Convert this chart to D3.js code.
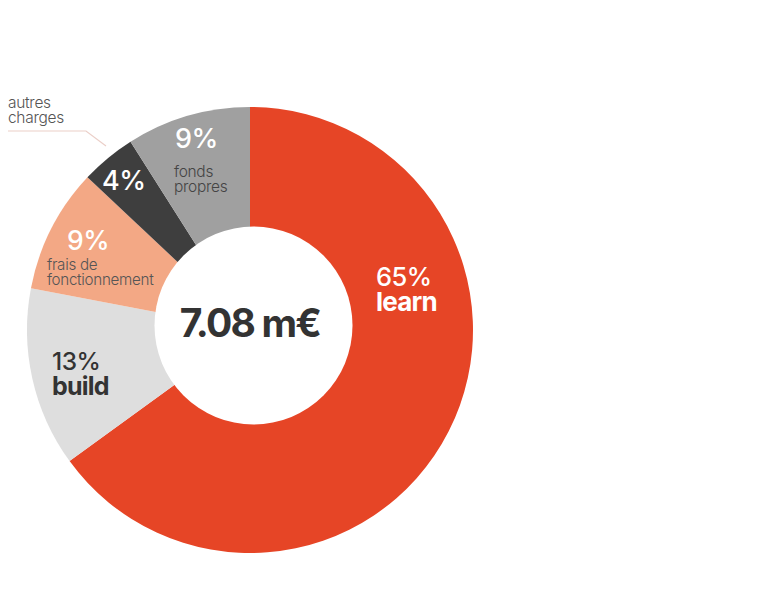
<!DOCTYPE html>
<html>
<head>
<meta charset="utf-8">
<script src="https://cdn.jsdelivr.net/npm/d3@7"></script>
<style>
  html, body { margin: 0; padding: 0; background: #fff; }
  svg { display: block; font-family: Inter, "Noto Sans", sans-serif; }
</style>
</head>
<body>
<svg id="chart" width="766" height="589"></svg>
<script>
// ---- data ----
const categories = ["learn", "build", "frais de fonctionnement", "autres charges", "fonds propres"];
const values = [65, 13, 9, 4, 9];
const percentLabels = ["65%", "13%", "9%", "4%", "9%"];
const nameLines = [["learn"], ["build"], ["frais de", "fonctionnement"], ["autres", "charges"], ["fonds", "propres"]];
const totalLabel = "7.08 m€";

// ---- styles / layout ----
const colors = ["#E64526", "#DEDEDE", "#F3A885", "#3E3E3E", "#A0A0A0"];
const cx = 250, cy = 330, outerR = 223;
const hole = { dx: 3.5, dy: -4.5, r: 99 };

const labelLayout = [
  { px: 376, py: 286, pSize: 25.5, pColor: "#fff", pWeight: 500, nx: 376, ny: 311, nSize: 26, nColor: "#fff", nWeight: 700, gap: 0 },
  { px: 52, py: 370, pSize: 24.5, pColor: "#333", pWeight: 500, nx: 52, ny: 395, nSize: 25, nColor: "#333", nWeight: 700, gap: 0 },
  { px: 67, py: 250, pSize: 26.5, pColor: "#fff", pWeight: 500, nx: 47, ny: 270, nSize: 15.2, nColor: "#555", nWeight: 300, gap: 15 },
  { px: 102, py: 190, pSize: 27, pColor: "#fff", pWeight: 500, nx: 8, ny: 108, nSize: 15.5, nColor: "#555", nWeight: 300, gap: 15 },
  { px: 175, py: 148, pSize: 27, pColor: "#fff", pWeight: 500, nx: 174, ny: 177, nSize: 15.5, nColor: "#444", nWeight: 300, gap: 15 }
];

const svg = d3.select("#chart");
const g = svg.append("g").attr("transform", `translate(${cx},${cy})`);

const pie = d3.pie().sort(null).value(d => d)(values);
const arc = d3.arc().innerRadius(0).outerRadius(outerR);

g.selectAll("path.slice")
  .data(pie)
  .join("path")
  .attr("class", "slice")
  .attr("d", arc)
  .attr("fill", (d, i) => colors[i]);

g.append("circle")
  .attr("cx", hole.dx).attr("cy", hole.dy).attr("r", hole.r)
  .attr("fill", "#fff");

g.append("text")
  .attr("x", hole.dx - 3.5).attr("y", 7)
  .attr("text-anchor", "middle")
  .attr("font-size", 39)
  .attr("font-weight", 700)
  .attr("letter-spacing", -1.8)
  .attr("fill", "#333")
  .text(totalLabel);

svg.append("polyline")
  .attr("points", "8,131 86,131 106,146")
  .attr("fill", "none")
  .attr("stroke", "#EBCFC8")
  .attr("stroke-width", 1.2);

const lab = svg.append("g");
labelLayout.forEach((L, i) => {
  lab.append("text")
    .attr("x", L.px).attr("y", L.py)
    .attr("font-size", L.pSize)
    .attr("font-weight", L.pWeight)
    .attr("letter-spacing", -0.5)
    .attr("fill", L.pColor)
    .text(percentLabels[i]);
  nameLines[i].forEach((t, j) => {
    lab.append("text")
      .attr("x", L.nx).attr("y", L.ny + j * L.gap)
      .attr("font-size", L.nSize)
      .attr("font-weight", L.nWeight)
      .attr("letter-spacing", L.nWeight >= 700 ? -0.8 : -0.3)
      .attr("fill", L.nColor)
      .text(t);
  });
});
</script>
</body>
</html>
